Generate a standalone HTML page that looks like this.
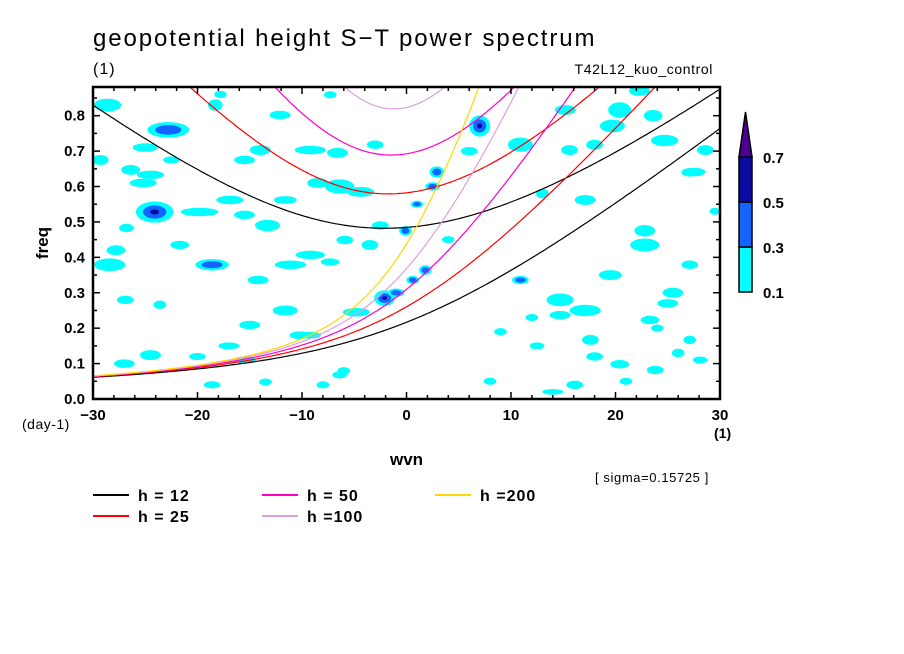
<!DOCTYPE html>
<html><head><meta charset="utf-8">
<style>
html,body{margin:0;padding:0;background:#fff;}
svg{display:block;font-family:"Liberation Sans",sans-serif;}
</style></head>
<body>
<svg id="chart" width="904" height="654" viewBox="0 0 904 654" xmlns="http://www.w3.org/2000/svg">
<rect width="904" height="654" fill="#fff"/>
<text x="93" y="46" font-size="24" letter-spacing="1.9">geopotential height S−T power spectrum</text>
<text x="93" y="74" font-size="16" letter-spacing="1">(1)</text>
<text x="713" y="74" font-size="14" text-anchor="end" letter-spacing="0.6">T42L12_kuo_control</text>
<defs><clipPath id="plotclip"><rect x="93" y="87" width="627" height="312"/></clipPath></defs>
<g id="blobs" clip-path="url(#plotclip)"></g>
<g id="curves" clip-path="url(#plotclip)"></g>
<g id="axes"></g>
<text transform="translate(48,243) rotate(-90)" font-size="17" font-weight="bold" text-anchor="middle">freq</text>
<text x="22" y="429" font-size="14" letter-spacing="0.5">(day-1)</text>
<text x="390" y="465" font-size="17" font-weight="bold">wvn</text>
<text x="714" y="438" font-size="14" font-weight="bold">(1)</text>
<text x="595" y="482" font-size="13" letter-spacing="0.6">[ sigma=0.15725 ]</text>
<g id="colorbar"></g>
<g id="legend"></g>
</svg>
<script>
// ---- data ----
const xTicks = [-30,-20,-10,0,10,20,30];
const yTicks = [0.0,0.1,0.2,0.3,0.4,0.5,0.6,0.7,0.8];
const depths = [12,25,50,100,200];
const depthLabels = ["h = 12","h = 25","h = 50","h =100","h =200"];
const depthColors = ["#000000","#ff0000","#ff00c8","#dca0dc","#ffd700"];
const cbLevels = [0.1,0.3,0.5,0.7];
const cbColors = ["#00ffff","#1464ff","#0a0aa0","#4b0096"];
// spectral power blobs (wvn, freq, half-width in wvn, half-height in freq, level)
const blobWvn  = [-28.6,-22.8,-24.5,-18.3,-14.0,-9.2,-15.5,-29.3,-25.2,-24.1,-19.8,-18.6,-28.4,-11.1,-26.9,-23.6,-15.0,-10.2,-5.9,-3.5,-11.6,-4.4,-6.6,-3.0,-14.2,-12.1,-7.3,-8.5,-2.1,-0.1,2.9,7.0,1.8,0.6,20.4,19.7,18.0,15.6,15.2,14.7,27.6,28.6,27.1,17.1,22.8,10.9,2.5,1.0,6.0,4.0,-1.0,-27,-20,-6,12,24,26,18,21,8,14,25,-17,-8,
  -17.8,-26.4,-25.0,-22.5,-16.9,-15.5,-13.3,-9.2,-7.3,-21.7,-26.8,-27.8,-11.6,-9.2,-6.4,-2.5,-4.8,-15.5,-18.6,-24.5,-13.5,-6.4,10.9,22.3,23.6,24.7,27.1,22.8,19.5,17.1,14.7,17.6,23.3,27.1,28.1,23.8,20.4,16.1,12.5,9.0,25.5,29.5,13.0];
const blobFreq = [0.83,0.76,0.633,0.83,0.703,0.703,0.675,0.675,0.61,0.528,0.528,0.379,0.379,0.379,0.28,0.266,0.209,0.18,0.449,0.435,0.562,0.585,0.695,0.718,0.336,0.802,0.859,0.61,0.285,0.475,0.641,0.771,0.364,0.336,0.816,0.771,0.718,0.703,0.816,0.28,0.641,0.703,0.379,0.562,0.475,0.336,0.6,0.55,0.7,0.45,0.3,0.1,0.12,0.08,0.23,0.2,0.13,0.12,0.05,0.05,0.02,0.27,0.15,0.04,
  0.86,0.647,0.71,0.675,0.562,0.52,0.49,0.407,0.387,0.435,0.483,0.42,0.25,0.18,0.6,0.49,0.245,0.11,0.04,0.124,0.048,0.068,0.718,0.87,0.80,0.73,0.64,0.435,0.35,0.25,0.237,0.167,0.223,0.167,0.11,0.082,0.098,0.04,0.15,0.19,0.30,0.53,0.58];
const blobW    = [1.3,2.0,1.3,0.7,1.0,1.5,1.0,0.8,1.3,1.8,1.8,1.6,1.5,1.5,0.8,0.6,1.0,1.0,0.8,0.8,1.1,1.3,1.0,0.8,1.0,1.0,0.6,1.0,1.0,0.6,0.7,1.0,0.6,0.6,1.1,1.2,0.8,0.8,1.0,1.3,1.0,0.8,0.8,1.0,1.0,0.8,0.7,0.6,0.8,0.6,0.8,1.0,0.8,0.6,0.6,0.6,0.6,0.8,0.6,0.6,1.0,1.0,1.0,0.6,
  0.6,0.9,1.2,0.8,1.3,1.0,1.2,1.4,0.9,0.9,0.7,0.9,1.2,1.0,1.4,0.8,1.3,1.1,0.8,1.0,0.6,0.7,1.2,1.0,0.9,1.3,0.8,1.4,1.1,1.5,1.0,0.8,0.9,0.6,0.7,0.8,0.9,0.8,0.7,0.6,1.0,0.5,0.6];
const blobH    = [0.018,0.022,0.012,0.016,0.014,0.012,0.012,0.014,0.012,0.03,0.012,0.016,0.018,0.012,0.012,0.012,0.012,0.011,0.012,0.014,0.011,0.014,0.014,0.012,0.012,0.012,0.01,0.014,0.022,0.014,0.016,0.03,0.014,0.012,0.022,0.018,0.014,0.014,0.014,0.018,0.012,0.014,0.012,0.014,0.016,0.012,0.012,0.01,0.012,0.01,0.012,0.012,0.01,0.01,0.01,0.01,0.012,0.012,0.01,0.01,0.008,0.012,0.01,0.01,
  0.01,0.014,0.012,0.01,0.012,0.012,0.016,0.012,0.01,0.012,0.012,0.014,0.014,0.01,0.02,0.012,0.012,0.01,0.01,0.014,0.01,0.01,0.02,0.014,0.016,0.016,0.012,0.018,0.014,0.016,0.012,0.014,0.012,0.012,0.01,0.012,0.012,0.012,0.01,0.01,0.014,0.01,0.014];
const blobLevel= [1,2,1,1,1,1,1,1,1,3,1,2,1,1,1,1,1,1,1,1,1,1,1,1,1,1,1,1,3,2,2,3,2,2,1,1,1,1,1,1,1,1,1,1,1,2,2,2,1,1,2,1,1,1,1,1,1,1,1,1,1,1,1,1,
  1,1,1,1,1,1,1,1,1,1,1,1,1,1,1,1,1,1,1,1,1,1,1,1,1,1,1,1,1,1,1,1,1,1,1,1,1,1,1,1,1,1,1];

// ---- axes scales ----
const X0=93,X1=720,Y0=399,Y1=87;
const xMin=-30,xMax=30,yMin=0,yMax=0.881;
const sx=v=>X0+(v-xMin)/(xMax-xMin)*(X1-X0);
const sy=v=>Y0-(v-yMin)/(yMax-yMin)*(Y0-Y1);
const NS="http://www.w3.org/2000/svg";
function mk(tag,attrs,parent){const e=document.createElementNS(NS,tag);for(const k in attrs)e.setAttribute(k,attrs[k]);parent.appendChild(e);return e;}

// ---- blobs ----
const gB=document.getElementById('blobs');
for(let i=0;i<blobWvn.length;i++){
  for(let l=0;l<blobLevel[i];l++){
    const f=1-l*0.38;
    const e=mk('ellipse',{cx:sx(blobWvn[i]),cy:sy(blobFreq[i]),rx:blobW[i]*10.45*f,ry:blobH[i]*354*f,fill:cbColors[l]},gB);
    
    
  }
}

// ---- dispersion curves ----
const g=9.81,a=6.371e6,beta=2*7.292e-5/a,toCpd=86400/(2*Math.PI);
const gC=document.getElementById('curves');
depths.forEach((h,di)=>{
  const c=Math.sqrt(g*h);
  let p0="",p2="";
  for(let s=-30;s<=30.001;s+=0.25){
    const k=s/a;
    const w0=k*c/2+Math.sqrt(k*k*c*c/4+beta*c);
    p0+=(p0?"L":"M")+sx(s).toFixed(1)+","+sy(w0*toCpd).toFixed(1);
    let w=Math.sqrt(5*beta*c+k*k*c*c);
    for(let it=0;it<30;it++){w=Math.sqrt(Math.max(1e-20,5*beta*c+k*k*c*c+beta*k*c*c/w));}
    p2+=(p2?"L":"M")+sx(s).toFixed(1)+","+sy(w*toCpd).toFixed(1);
  }
  const e1=mk('path',{d:p0,fill:'none',stroke:depthColors[di],'stroke-width':1.2},gC);
  
  
  const e2=mk('path',{d:p2,fill:'none',stroke:depthColors[di],'stroke-width':1.2},gC);
  
  
});

// ---- axes ----
const gA=document.getElementById('axes');
const fr=mk('rect',{x:X0,y:Y1,width:X1-X0,height:Y0-Y1,fill:'none',stroke:'#000','stroke-width':2.5},gA);


for(let v=-30;v<=30;v+=2){
  const major=(v%10===0),len=major?7:4;
  mk('line',{x1:sx(v),x2:sx(v),y1:Y0,y2:Y0-len,stroke:'#000','stroke-width':1.5},gA);
  mk('line',{x1:sx(v),x2:sx(v),y1:Y1,y2:Y1+len,stroke:'#000','stroke-width':1.5},gA);
}
for(let v=0;v<=0.86;v+=0.05){
  const major=Math.abs(Math.round(v*10)-v*10)<1e-6,len=major?7:4;
  mk('line',{x1:X0,x2:X0+len,y1:sy(v),y2:sy(v),stroke:'#000','stroke-width':1.5},gA);
  mk('line',{x1:X1,x2:X1-len,y1:sy(v),y2:sy(v),stroke:'#000','stroke-width':1.5},gA);
}
xTicks.forEach(v=>{
  const t=mk('text',{x:sx(v),y:420,'font-size':15,'font-weight':'bold','text-anchor':'middle'},gA);
  t.textContent=(v<0?"−":"")+Math.abs(v);
  
  
});
yTicks.forEach(v=>{
  const t=mk('text',{x:85,y:sy(v)+5,'font-size':15,'font-weight':'bold','text-anchor':'end'},gA);
  t.textContent=v.toFixed(1);
  
  
});

// ---- colorbar ----
const gCB=document.getElementById('colorbar');
const cbX=739,cbW=13,cbTop=157,cbBot=292,seg=(cbBot-cbTop)/3;
for(let i=0;i<3;i++){
  const r=mk('rect',{x:cbX,y:cbBot-(i+1)*seg,width:cbW,height:seg,fill:cbColors[i],stroke:'#000','stroke-width':1.5},gCB);
  
  
}
const tri=mk('polygon',{points:`${cbX},${cbTop} ${cbX+cbW},${cbTop} ${cbX+cbW/2},112`,fill:cbColors[3],stroke:'#000','stroke-width':1.5},gCB);


cbLevels.forEach((v,i)=>{
  const t=mk('text',{x:763,y:cbBot-i*seg+6,'font-size':15,'font-weight':'bold'},gCB);
  t.textContent=v.toFixed(1);
  
  
});

// ---- legend ----
const gL=document.getElementById('legend');
const legX=[93,93,262,262,435],legY=[495,516,495,516,495];
depths.forEach((h,i)=>{
  const l=mk('line',{x1:legX[i],x2:legX[i]+36,y1:legY[i],y2:legY[i],stroke:depthColors[i],'stroke-width':2},gL);
  
  
  const t=mk('text',{x:legX[i]+45,y:legY[i]+6,'font-size':16,'font-weight':'bold','letter-spacing':'1'},gL);
  t.textContent=depthLabels[i];
  
  
});
</script>
</body></html>
